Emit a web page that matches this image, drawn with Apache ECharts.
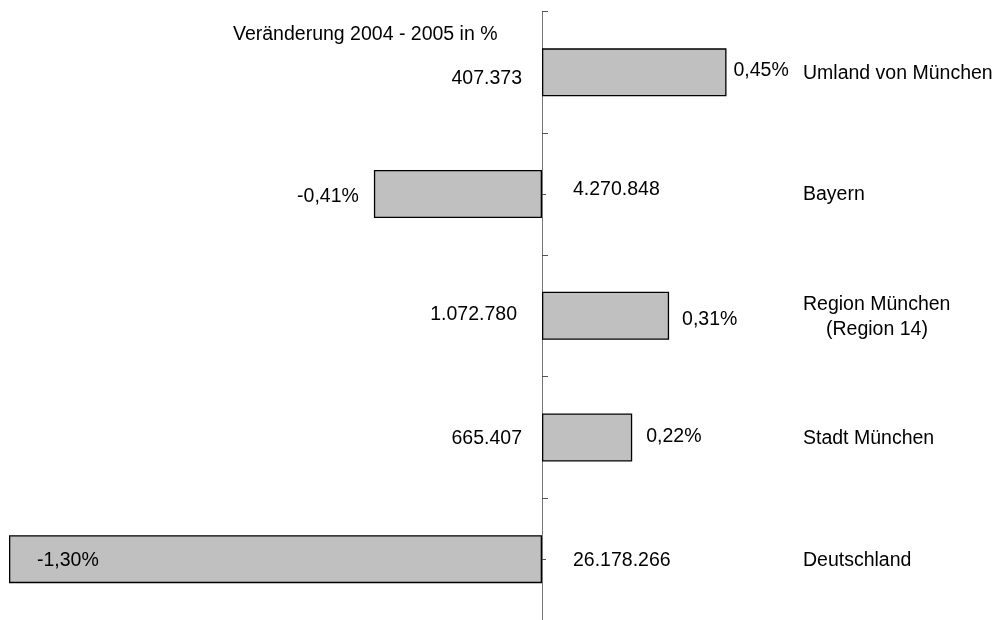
<!DOCTYPE html>
<html>
<head>
<meta charset="utf-8">
<script src="https://cdn.jsdelivr.net/npm/echarts@6/dist/echarts.min.js"></script>
<style>
    html, body {margin: 0; padding: 0; background: #fff;}
    #chart {width: 1003px; height: 620px;}
</style>
</head>
<body>
<div id="chart"></div>
<script>
// regions, top to bottom
let regions = ['Umland von München', 'Bayern', 'Region München\n(Region 14)', 'Stadt München', 'Deutschland'];
// change 2004 - 2005 in %
let change_pct = [0.45, -0.41, 0.31, 0.22, -1.30];
// population numbers printed next to the axis
let population = [407373, 4270848, 1072780, 665407, 26178266];

const font = 'Liberation Sans, Arial, sans-serif';
const fsize = 19.5;
const grid_left = 9, grid_right = 10;   // zero of the value axis lands at x = 542

function fmt_pct(v) {
    return v.toFixed(2).replace('.', ',') + '%';
}

function fmt_int(v) {
    return String(v).replace(/\B(?=(\d{3})+(?!\d))/g, '.');
}

// per bar placement of the percent label
let pct_label = [
    {position: 'right', distance: 7, offset: [0, -2]},
    {position: 'left', distance: 15, offset: [0, 3]},
    {position: 'right', distance: 13, offset: [0, 4]},
    {position: 'right', distance: 14, offset: [0, -1]},
    {position: 'insideLeft', distance: 28, offset: [0, 1]},
];
// placement of the population number, on the side away from the bar
let pop_label = [
    {position: 'left', distance: 20, offset: [0, 6]},
    {position: 'right', distance: 31, offset: [0, -4]},
    {position: 'left', distance: 25, offset: [0, -1]},
    {position: 'left', distance: 20, offset: [0, 1]},
    {position: 'right', distance: 31, offset: [0, 1]},
];

let chart = echarts.init(document.getElementById('chart'));

let bar_data = change_pct.map((v, i) => ({
    value: v,
    label: pct_label[i]
}));

let pop_data = population.map((v, i) => ({
    value: [0, i],
    label: Object.assign({formatter: fmt_int(v)}, pop_label[i])
}));

let axis_x = 542;

let option = {
    animation: false,
    textStyle: {fontFamily: font, color: '#000'},
    title: {
        text: 'Veränderung 2004 - 2005 in %',
        left: 233,
        top: 25,
        padding: 0,
        textStyle: {fontFamily: font, fontSize: fsize, fontWeight: 'normal', color: '#000'}
    },
    grid: {left: grid_left, right: grid_right, top: 11.5, bottom: -4.5, containLabel: false},
    xAxis: {
        type: 'value',
        min: -1.3,
        max: 1.1,
        show: false,
        splitLine: {show: false}
    },
    yAxis: [
        {
            // boundary ticks + axis line at zero
            type: 'category',
            data: regions,
            inverse: true,
            axisLine: {show: true, onZero: true, lineStyle: {color: '#777', width: 1}},
            axisTick: {show: true, inside: true, length: 6, lineStyle: {color: '#555', width: 1}},
            axisLabel: {show: false}
        },
        {
            // short ticks at the category centres
            type: 'category',
            data: regions,
            inverse: true,
            position: 'left',
            offset: -(axis_x - grid_left),
            axisLine: {show: true, onZero: false, lineStyle: {color: '#777', width: 1}},
            axisTick: {show: true, inside: true, length: 4, alignWithLabel: true, lineStyle: {color: '#555', width: 1}},
            axisLabel: {show: false}
        },
        {
            // region names
            type: 'category',
            data: regions,
            inverse: true,
            position: 'right',
            offset: -(1003 - grid_right - 803),
            axisLine: {show: false, onZero: false},
            axisTick: {show: false},
            axisLabel: {
                margin: 0,
                align: 'left',
                fontFamily: font,
                fontSize: fsize,
                color: '#000',
                lineHeight: 25,
                padding: [2, 0, 0, 0],
                formatter: function (v) {
                    if (v.indexOf('\n') < 0) return v;
                    let parts = v.split('\n');
                    return '{a|' + parts[0] + '}\n{b|' + parts[1] + '}';
                },
                rich: {
                    a: {fontFamily: font, fontSize: fsize, color: '#000', lineHeight: 25},
                    b: {fontFamily: font, fontSize: fsize, color: '#000', lineHeight: 25, padding: [0, 0, 0, 23]}
                }
            }
        }
    ],
    series: [
        {
            name: 'Veränderung',
            type: 'bar',
            yAxisIndex: 0,
            barWidth: 48,
            data: bar_data,
            itemStyle: {color: '#c0c0c0', borderColor: '#000', borderWidth: 1.3},
            label: {
                show: true,
                fontFamily: font,
                fontSize: fsize,
                color: '#000',
                formatter: (p) => fmt_pct(p.value)
            }
        },
        {
            name: 'Einwohner',
            type: 'scatter',
            yAxisIndex: 0,
            symbolSize: 0,
            itemStyle: {opacity: 1},
            data: pop_data,
            label: {
                show: true,
                fontFamily: font,
                fontSize: fsize,
                color: '#000'
            }
        }
    ]
};

chart.setOption(option);
</script>
</body>
</html>
